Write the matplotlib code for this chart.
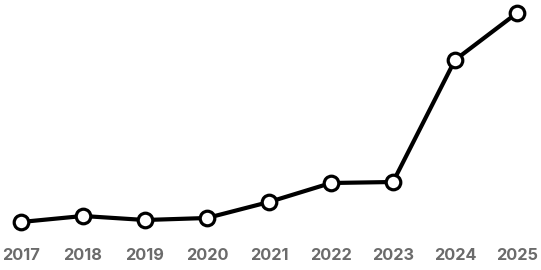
import matplotlib
matplotlib.use("Agg")
import matplotlib.pyplot as plt

# years and values (arbitrary units)
years = [2017, 2018, 2019, 2020, 2021, 2022, 2023, 2024, 2025]
values = [48, 54, 50, 52, 68, 87, 88, 210, 257]
year_labels = [str(y) for y in years]

fig = plt.figure(figsize=(5.41, 2.70), dpi=100)
ax = fig.add_axes([0, 0, 1, 1])

ax.plot(years, values, color="black", linewidth=3.0, marker="o",
        markersize=10.5, markerfacecolor="white", markeredgecolor="black",
        markeredgewidth=2.3, solid_joinstyle="round", zorder=3)

ax.set_xlim(2017 - 21 / 62, 2025 + 24 / 62)
ax.set_ylim(0, 270)

# year labels along the bottom
for y, lab in zip(years, year_labels):
    ax.text(y, 14, lab, ha="center", va="center", fontsize=11.8,
            fontweight="bold", family="Inter", color="#6b6b6b")

ax.axis("off")
fig.savefig("out.png", dpi=100)
